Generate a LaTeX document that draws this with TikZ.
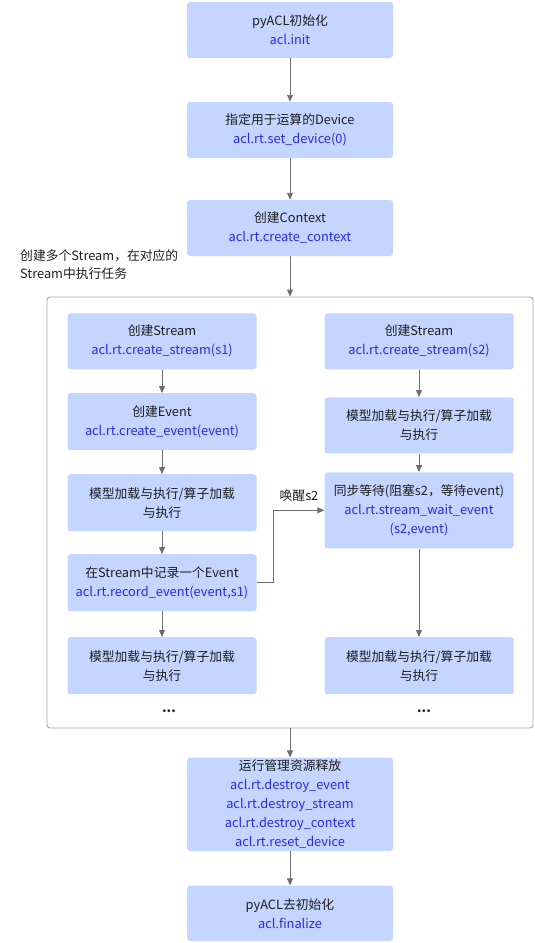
\documentclass[tikz,border=0pt]{standalone}
\usepackage{fontspec}
\setmainfont{Noto Sans CJK SC}
\usetikzlibrary{arrows.meta}
\definecolor{boxfill}{HTML}{C4D5FF}
\definecolor{bluetxt}{HTML}{2A2AE6}
\definecolor{blacktxt}{HTML}{1E1E1E}
\definecolor{arrowgray}{HTML}{6E6E72}
\definecolor{contgray}{HTML}{A6A6A6}
\tikzset{
  box/.style={fill=boxfill, rounded corners=3pt, minimum width=206pt, minimum height=56pt,
    align=center, inner sep=0pt, text=blacktxt, font=\fontsize{12.8}{19}\selectfont},
  sbox/.style={box, minimum width=189pt},
  arr/.style={draw=arrowgray, line width=0.9pt, -{Triangle[length=7pt,width=6pt]}},
  cont/.style={draw=contgray, line width=0.9pt, rounded corners=3pt, minimum width=486pt, minimum height=431pt, inner sep=0pt},
  lbl/.style={text=blacktxt, font=\fontsize{12.8}{18}\selectfont, inner sep=0pt},
  dots/.style={text=blacktxt, font=\fontsize{13}{13}\selectfont\bfseries, inner sep=0pt}
}
\newcommand{\bl}[1]{\textcolor{bluetxt}{#1}}
\begin{document}
\begin{tikzpicture}[x=1pt,y=-1pt]
\useasboundingbox (0,0) rectangle (535,943);
\node[box] (b1) at (290,30) {pyACL初始化\\\bl{acl.init}};
\node[box] (b2) at (290,130) {指定用于运算的Device\\\bl{acl.rt.set\_device(0)}};
\node[box] (b3) at (290,228) {创建Context\\\bl{acl.rt.create\_context}};
\node[lbl, anchor=north west, align=left] (note) at (20,249) {创建多个Stream，在对应的\\Stream中执行任务};
\node[cont] (c) at (290,512.5) {};
% left column
\node[sbox] (l1) at (162,341.3) {创建Stream\\\bl{acl.rt.create\_stream(s1)}};
\node[sbox, minimum height=57pt] (l2) at (162,421.7) {创建Event\\\bl{acl.rt.create\_event(event)}};
\node[sbox, minimum height=57pt] (l3) at (162,502.7) {模型加载与执行/算子加载\\与执行};
\node[sbox, minimum height=57pt] (l4) at (162,582.7) {在Stream中记录一个Event\\\bl{acl.rt.record\_event(event,s1)}};
\node[sbox, minimum height=57pt] (l5) at (162,665.7) {模型加载与执行/算子加载\\与执行};
\node[dots] (d1) at (169,711) {...};
% right column
\node[sbox] (r1) at (419,341.3) {创建Stream\\\bl{acl.rt.create\_stream(s2)}};
\node[sbox] (r2) at (419,425.3) {模型加载与执行/算子加载\\与执行};
\node[sbox, minimum height=76pt] (r3) at (419,510.3) {同步等待(阻塞s2，等待event)\\\bl{acl.rt.stream\_wait\_event}\\\bl{(s2,event)}};
\node[sbox, minimum height=57pt] (r4) at (419,665.7) {模型加载与执行/算子加载\\与执行};
\node[dots] (d2) at (424,711) {...};
% bottom
\node[box, minimum height=93.3pt] (b5) at (290,804.3) {运行管理资源释放\\\bl{acl.rt.destroy\_event}\\\bl{acl.rt.destroy\_stream}\\\bl{acl.rt.destroy\_context}\\\bl{acl.rt.reset\_device}};
\node[box, minimum height=55.3pt] (b6) at (290,913.3) {pyACL去初始化\\\bl{acl.finalize}};
% arrows
\draw[arr] (b1) -- (b2);
\draw[arr] (b2) -- (b3);
\draw[arr] (b3) -- (c.north);
\draw[arr] (l1) -- (l2);
\draw[arr] (l2) -- (l3);
\draw[arr] (l3) -- (l4);
\draw[arr] (l4) -- (l5);
\draw[arr] (r1) -- (r2);
\draw[arr] (r2) -- (r3);
\draw[arr] (r3) -- (r4);
\draw[arr] (l4.east) -- ++(17,0) |- node[pos=0.75, above=8pt, lbl] (wake) {唤醒s2} (r3.west);
\draw[arr] (c.south) -- (b5);
\draw[arr] (b5) -- (b6);
\end{tikzpicture}
\end{document}
